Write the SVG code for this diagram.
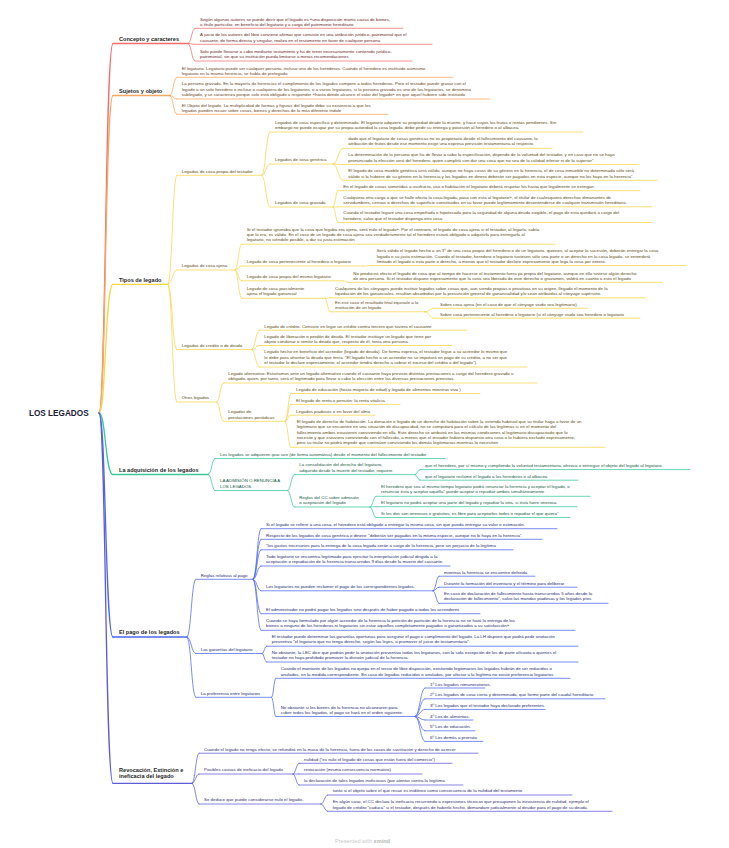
<svg xmlns="http://www.w3.org/2000/svg" width="729" height="848" viewBox="0 0 729 848">
<style>
text{font-family:"Liberation Sans",Arial,sans-serif}
.t{font-size:4.4px}
.m{font-size:5.6px;font-weight:bold;fill:#1f1f1f}
.root{font-size:8.2px;font-weight:bold;fill:#1b1c3b}
.tr{fill:#6a2424}.to{fill:#6a3f17}.ty{fill:#5a4b12}.tg{fill:#155a43}.tb{fill:#232b73}.tp{fill:#2e2c6e}
.l{fill:none;stroke-width:0.75;stroke-linecap:round}
.lm{stroke-width:1.3}
.sr{stroke:#F26D6D}.so{stroke:#F8A760}.sy{stroke:#F7D64B}.sg{stroke:#3CC89C}.sb{stroke:#4E67EE}.sp{stroke:#5E5BD6}
.ft{font-size:5.6px;fill:#c9c9c9}
</style>
<rect width="729" height="848" fill="#ffffff"/>

<g id="connectors">
<path class="l lm sr" d="M99,413 C106,413 105,43.5 113,43.5"/>
<path class="l lm so" d="M99,413 C106,413 105,95.5 113,95.5"/>
<path class="l lm sy" d="M99,413 C106,413 105,284.3 113,284.3"/>
<path class="l lm sg" d="M99,413 C106,413 105,474.5 113,474.5"/>
<path class="l lm sb" d="M99,413 C106,413 105,637 113,637"/>
<path class="l lm sp" d="M99,413 C106,413 105,783.3 113,783.3"/>

<path class="l sr" d="M188,43.5 C191.5,43.5 191.5,28.3 195,28.3"/>
<path class="l sr" d="M188,43.5 C191.5,43.5 191.5,44.3 195,44.3"/>
<path class="l sr" d="M188,43.5 C191.5,43.5 191.5,61 195,61"/>

<path class="l so" d="M170,95.5 C173.3,95.5 173.3,77.3 176.7,77.3"/>
<path class="l so" d="M170,95.5 C173.3,95.5 173.3,99 176.7,99"/>
<path class="l so" d="M170,95.5 C173.3,95.5 173.3,114.3 176.7,114.3"/>

<path class="l sy" d="M168,284.3 C172.3,284.3 172.3,175.3 176.7,175.3"/>
<path class="l sy" d="M168,284.3 C172.3,284.3 172.3,270 176.7,270"/>
<path class="l sy" d="M168,284.3 C172.3,284.3 172.3,349.6 176.7,349.6"/>
<path class="l sy" d="M168,284.3 C172.3,284.3 172.3,402 176.7,402"/>

<path class="l sy" d="M261.7,175.3 C265.8,175.3 265.8,132 270,132"/>
<path class="l sy" d="M261.7,175.3 C265.8,175.3 265.8,164 270,164"/>
<path class="l sy" d="M261.7,175.3 C265.8,175.3 265.8,207 270,207"/>
<path class="l sy" d="M333,164 C338,164 338,148.3 343,148.3"/>
<path class="l sy" d="M333,164 C338,164 338,164.5 343,164.5"/>
<path class="l sy" d="M333,164 C338,164 338,180.3 343,180.3"/>
<path class="l sy" d="M333,207 C335.5,207 335.5,190.7 338,190.7"/>
<path class="l sy" d="M333,207 C335.5,207 335.5,206.8 338,206.8"/>
<path class="l sy" d="M333,207 C335.5,207 335.5,222.5 338,222.5"/>

<path class="l sy" d="M235,270 C238.3,270 238.3,244.2 241.7,244.2"/>
<path class="l sy" d="M235,270 C238.3,270 238.3,266 241.7,266"/>
<path class="l sy" d="M235,270 C238.3,270 238.3,280.8 241.7,280.8"/>
<path class="l sy" d="M235,270 C238.3,270 238.3,298.3 241.7,298.3"/>
<path class="l sy" d="M363,266 C367.3,266 367.3,265.5 371.7,265.5"/>
<path class="l sy" d="M343,280.8 C345.5,280.8 345.5,282.3 348,282.3"/>
<path class="l sy" d="M325,298.3 C327.5,298.3 327.5,297.8 330,297.8"/>
<path class="l sy" d="M325,298.3 C327.5,298.3 327.5,311.8 330,311.8"/>
<path class="l sy" d="M425,311.8 C429.5,311.8 429.5,308.3 434,308.3"/>
<path class="l sy" d="M425,311.8 C429.5,311.8 429.5,318.2 434,318.2"/>

<path class="l sy" d="M251.7,349.6 C255.5,349.6 255.5,330.2 259.3,330.2"/>
<path class="l sy" d="M251.7,349.6 C255.5,349.6 255.5,345.5 259.3,345.5"/>
<path class="l sy" d="M251.7,349.6 C255.5,349.6 255.5,367 259.3,367"/>

<path class="l sy" d="M216.7,402 C220,402 220,383 223.3,383"/>
<path class="l sy" d="M216.7,402 C220,402 220,421.3 223.3,421.3"/>
<path class="l sy" d="M285,421.3 C288,421.3 288,393.5 291,393.5"/>
<path class="l sy" d="M285,421.3 C288,421.3 288,404.4 291,404.4"/>
<path class="l sy" d="M285,421.3 C288,421.3 288,415.2 291,415.2"/>
<path class="l sy" d="M285,421.3 C288,421.3 288,447.3 291,447.3"/>

<path class="l sg" d="M208.3,474.5 C211.7,474.5 211.7,458.5 215,458.5"/>
<path class="l sg" d="M208.3,474.5 C211.7,474.5 211.7,490.5 215,490.5"/>
<path class="l sg" d="M287.7,490.5 C291,490.5 291,474.6 294.3,474.6"/>
<path class="l sg" d="M287.7,490.5 C291,490.5 291,507 294.3,507"/>
<path class="l sg" d="M415,474.6 C417.5,474.6 417.5,469.6 420,469.6"/>
<path class="l sg" d="M415,474.6 C417.5,474.6 417.5,480.2 420,480.2"/>
<path class="l sg" d="M370,507 C373,507 373,496.3 376,496.3"/>
<path class="l sg" d="M370,507 C373,507 373,506.7 376,506.7"/>
<path class="l sg" d="M370,507 C373,507 373,517.5 376,517.5"/>

<path class="l sb" d="M187,637 C191.3,637 191.3,579.3 195.7,579.3"/>
<path class="l sb" d="M187,637 C191.3,637 191.3,653.5 195.7,653.5"/>
<path class="l sb" d="M187,637 C191.3,637 191.3,697.3 195.7,697.3"/>
<path class="l sb" d="M253,579.3 C257,579.3 257,528.7 261,528.7"/>
<path class="l sb" d="M253,579.3 C257,579.3 257,539.3 261,539.3"/>
<path class="l sb" d="M253,579.3 C257,579.3 257,549.8 261,549.8"/>
<path class="l sb" d="M253,579.3 C257,579.3 257,566 261,566"/>
<path class="l sb" d="M253,579.3 C257,579.3 257,590.8 261,590.8"/>
<path class="l sb" d="M253,579.3 C257,579.3 257,613.7 261,613.7"/>
<path class="l sb" d="M253,579.3 C257,579.3 257,630.3 261,630.3"/>
<path class="l sb" d="M433,590.8 C436,590.8 436,576.2 439,576.2"/>
<path class="l sb" d="M433,590.8 C436,590.8 436,587.2 439,587.2"/>
<path class="l sb" d="M433,590.8 C436,590.8 436,603.3 439,603.3"/>
<path class="l sb" d="M262,653.5 C264.3,653.5 264.3,646.2 266.7,646.2"/>
<path class="l sb" d="M262,653.5 C264.3,653.5 264.3,662 266.7,662"/>
<path class="l sb" d="M271.7,697.3 C273.7,697.3 273.7,678.3 275.7,678.3"/>
<path class="l sb" d="M271.7,697.3 C273.7,697.3 273.7,716.5 275.7,716.5"/>
<path class="l sb" d="M415,716.5 C420,716.5 420,688 425,688"/>
<path class="l sb" d="M415,716.5 C420,716.5 420,698.8 425,698.8"/>
<path class="l sb" d="M415,716.5 C420,716.5 420,709.4 425,709.4"/>
<path class="l sb" d="M415,716.5 C420,716.5 420,720 425,720"/>
<path class="l sb" d="M415,716.5 C420,716.5 420,730.8 425,730.8"/>
<path class="l sb" d="M415,716.5 C420,716.5 420,741.4 425,741.4"/>

<path class="l sp" d="M192,783.3 C195.5,783.3 195.5,753.2 199,753.2"/>
<path class="l sp" d="M192,783.3 C195.5,783.3 195.5,774 199,774"/>
<path class="l sp" d="M192,783.3 C195.5,783.3 195.5,804 199,804"/>
<path class="l sp" d="M293,774 C296,774 296,763.3 299,763.3"/>
<path class="l sp" d="M293,774 C296,774 296,774 299,774"/>
<path class="l sp" d="M293,774 C296,774 296,785 299,785"/>
<path class="l sp" d="M321,804 C324.3,804 324.3,795 327.7,795"/>
<path class="l sp" d="M321,804 C324.3,804 324.3,811.3 327.7,811.3"/>
</g>

<g id="root"><text class="root" x="29" y="416.3">LOS LEGADOS</text></g>

<!-- Concepto -->
<g id="concepto"><path class="l lm sr" d="M113,43.5H188"/><text class="m" x="119" y="41">Concepto y caracteres</text></g>
<g id="c1"><path class="l sr" d="M195,28.3H403"/><text class="t tr"><tspan x="200" y="20.5">Según algunos autores se puede decir que el legado es «una disposición mortis causa de bienes,</tspan><tspan x="200" y="25.9">a título particular, en beneficio del legatario y a cargo del patrimonio hereditario</tspan></text></g>
<g id="c2"><path class="l sr" d="M195,44.3H432"/><text class="t tr"><tspan x="200" y="36.2">A juicio de los autores del libro conviene afirmar que consiste en una atribución jurídico- patrimonial que el</tspan><tspan x="200" y="41.6">causante, de forma directa y singular, realiza en el testamento en favor de cualquier persona</tspan></text></g>
<g id="c3"><path class="l sr" d="M195,61H412"/><text class="t tr"><tspan x="200" y="52.8">Solo puede llevarse a cabo mediante testamento y ha de tener necesariamente contenido jurídico-</tspan><tspan x="200" y="58.2">patrimonial, sin que su institución pueda limitarse a meras recomendaciones</tspan></text></g>

<!-- Sujetos -->
<g id="sujetos"><path class="l lm so" d="M113,95.5H170"/><text class="m" x="119" y="92.7">Sujetos y objeto</text></g>
<g id="s1"><path class="l so" d="M176.7,77.3H453"/><text class="t to"><tspan x="181.7" y="69.5">El legatario. Legatario puede ser cualquier persona, incluso uno de los herederos. Cuando el heredero es instituido asimismo</tspan><tspan x="181.7" y="74.8">legatario en la misma herencia, se habla de prelegado</tspan></text></g>
<g id="s2"><path class="l so" d="M176.7,99H490"/><text class="t to"><tspan x="181.7" y="85.2">La persona gravada. En la mayoría de herencias el cumplimiento de los legados compete a todos herederos. Pero el testador puede gravar con el</tspan><tspan x="181.7" y="90.8">legado a un solo heredero e incluso a cualquiera de los legatarios, o a varios legatarios, si la persona gravada es uno de los legatarios, se denomina</tspan><tspan x="181.7" y="96.2">sublegado, y se caracteriza porque solo está obligado a responder «hasta donde alcance el valor del legado» en que aquel hubiere sido instituido</tspan></text></g>
<g id="s3"><path class="l so" d="M176.7,114.3H388"/><text class="t to"><tspan x="181.7" y="106.5">El Objeto del legado. La multiplicidad de formas y figuras del legado debe su existencia a que los</tspan><tspan x="181.7" y="111.8">legados pueden recaer sobre cosas, bienes y derechos de la más diferente índole</tspan></text></g>

<!-- Tipos -->
<g id="tipos"><path class="l lm sy" d="M113,284.3H168"/><text class="m" x="119" y="281.7">Tipos de legado</text></g>
<g id="t1"><path class="l sy" d="M176.7,175.3H261.7"/><text class="t ty" x="181.7" y="172.5">Legados de cosa propia del testador</text></g>
<g id="t1a"><path class="l sy" d="M270,132H583"/><text class="t ty"><tspan x="275" y="123.5">Legados de cosa específica y determinada. El legatario adquiere su propiedad desde la muerte, y hace suyos los frutos o rentas pendientes. Sin</tspan><tspan x="275" y="129">embargo no puede ocupar por su propia autoridad la cosa legada, debe pedir su entrega y posesión al heredero o al albacea.</tspan></text></g>
<g id="t1b"><path class="l sy" d="M270,164H333"/><text class="t ty" x="275" y="161.2">Legados de cosa genérica</text></g>
<g id="g1"><path class="l sy" d="M343,148.3H552"/><text class="t ty"><tspan x="348.3" y="139.5"> dado que el legatario de cosas genéricas no es propietario desde el fallecimiento del causante, la</tspan><tspan x="348.3" y="145">atribución de frutos desde ese momento exige una expresa previsión testamentaria al respecto.</tspan></text></g>
<g id="g2"><path class="l sy" d="M343,164.5H638"/><text class="t ty"><tspan x="348.3" y="156.2">La determinación de la persona que ha de llevar a cabo la especificación, depende de la voluntad del testador, y en caso que no se haya</tspan><tspan x="348.3" y="161.6">pronunciado la elección será del heredero, quien cumplirá con dar una cosa que no sea de la calidad inferior ni de la superior”.</tspan></text></g>
<g id="g3"><path class="l sy" d="M343,180.3H657"/><text class="t ty"><tspan x="348.3" y="172.2">El legado de cosa mueble genérica será válido, aunque no haya cosas de su género en la herencia, el de cosa inmueble no determinada sólo será</tspan><tspan x="348.3" y="177.5">válido si la hubiere de su género en la herencia y los legados en dinero deberán ser pagados en esta especie, aunque no los haya en la herencia”.</tspan></text></g>
<g id="t1c"><path class="l sy" d="M270,207H333"/><text class="t ty" x="275" y="204.2">Legados de cosa gravada</text></g>
<g id="v1"><path class="l sy" d="M338,190.7H640"/><text class="t ty" x="343.3" y="188">En el legado de cosas sometidas a usufructo, uso o habitación el legatario deberá respetar los hasta que legalmente se extingan.</text></g>
<g id="v2"><path class="l sy" d="M338,206.8H652"/><text class="t ty"><tspan x="343.3" y="198.5">Cualquiera otra carga a que se halle afecta la cosa legada, pasa con esta al legatario», el titular de cualesquiera derechos dimanantes de</tspan><tspan x="343.3" y="204">servidumbres, censos o derechos de superficie constituidos en su favor puede legítimamente desentenderse de cualquier transmisión hereditaria.</tspan></text></g>
<g id="v3"><path class="l sy" d="M338,222.5H652"/><text class="t ty"><tspan x="343.3" y="214.2">Cuando el testador legare una cosa empeñada o hipotecada para la seguridad de alguna deuda exigible, el pago de esta quedará a cargo del</tspan><tspan x="343.3" y="219.7">heredero, salvo que el testador disponga otra cosa</tspan></text></g>

<g id="t2"><path class="l sy" d="M176.7,270H235"/><text class="t ty" x="181.7" y="267.2">Legados de cosa ajena</text></g>
<g id="a1"><path class="l sy" d="M241.7,244.2H555"/><text class="t ty"><tspan x="246.7" y="230.5">Si el testador ignoraba que la cosa que legaba era ajena, será nulo el legado». Por el contrario, el legado de cosa ajena si el testador, al legarla, sabía</tspan><tspan x="246.7" y="235.9">que lo era, es válido. En el caso de un legado de cosa ajena sea verdaderamente tal el heredero estará obligado a adquirirla para entregarla al</tspan><tspan x="246.7" y="241.3">legatario, no siéndole posible, a dar su justa estimación</tspan></text></g>
<g id="a2"><path class="l sy" d="M241.7,266H363"/><text class="t ty" x="246.7" y="263.2">Legado de cosa perteneciente al heredero o legatario</text></g>
<g id="a2a"><path class="l sy" d="M371.7,265.5H686"/><text class="t ty"><tspan x="376.7" y="252.2">Será válido el legado hecho a un 3º de una cosa propia del heredero o de un legatario, quienes, al aceptar la sucesión, deberán entregar la cosa</tspan><tspan x="376.7" y="257.6">legada o su justa estimación. Cuando el testador, heredero o legatario tuviesen sólo una parte o un derecho en la cosa legada, se entenderá</tspan><tspan x="376.7" y="263">limitado el legado a esta parte o derecho, a menos que el testador declare expresamente que lega la cosa por entero.</tspan></text></g>
<g id="a3"><path class="l sy" d="M241.7,280.8H343"/><text class="t ty" x="246.7" y="277.8">Legado de cosa propia del mismo legatario</text></g>
<g id="a3a"><path class="l sy" d="M348,282.3H662"/><text class="t ty"><tspan x="353.3" y="274.6">No producirá efecto el legado de cosa que al tiempo de hacerse el testamento fuera ya propia del legatario, aunque en ella tuviese algún derecho</tspan><tspan x="353.3" y="280">de otra persona. Si el testador dispone expresamente que la cosa sea liberada de este derecho o gravamen, valdrá en cuanto a esto el legado</tspan></text></g>
<g id="a4"><path class="l sy" d="M241.7,298.3H325"/><text class="t ty"><tspan x="246.7" y="289.8">Legado de cosa parcialmente</tspan><tspan x="246.7" y="295.4">ajena el legado ganancial</tspan></text></g>
<g id="a4a"><path class="l sy" d="M330,297.8H645"/><text class="t ty"><tspan x="335" y="289.5">Cualquiera de los cónyuges puede instituir legados sobre cosas que, aun siendo propias o privativas en su origen, llegado el momento de la</tspan><tspan x="335" y="295">liquidación de los gananciales, resultan absorbidas por la presunción general de ganancialidad y/o sean atribuidas al cónyuge supérstite.</tspan></text></g>
<g id="a4b"><path class="l sy" d="M330,311.8H425"/><text class="t ty"><tspan x="335" y="303.8">En ese caso el resultado final equivale a la</tspan><tspan x="335" y="309.2">institución de un legado.</tspan></text></g>
<g id="a4b1"><path class="l sy" d="M434,308.3H588"/><text class="t ty" x="440" y="305.8">Sobre cosa ajena (en el caso de que el cónyuge viudo sea legitimario).</text></g>
<g id="a4b2"><path class="l sy" d="M434,318.2H640"/><text class="t ty" x="440" y="315.5">Sobre cosa perteneciente al heredero o legatario (si el cónyuge viudo sea heredero o legatario</text></g>

<g id="t3"><path class="l sy" d="M176.7,349.6H251.7"/><text class="t ty" x="181.7" y="346.8">Legados de credito o de deuda</text></g>
<g id="d1"><path class="l sy" d="M259.3,330.2H467"/><text class="t ty" x="264.3" y="327.5">Legado de crédito. Consiste en legar un crédito contra tercero que tuviera el causante</text></g>
<g id="d2"><path class="l sy" d="M259.3,345.5H452"/><text class="t ty"><tspan x="264.3" y="337.5">Legado de liberación o perdón de deuda. El testador instituye un legado que tiene por</tspan><tspan x="264.3" y="342.9">objeto condonar o remitir la deuda que, respecto de él, tenía otra persona.</tspan></text></g>
<g id="d3"><path class="l sy" d="M259.3,367H527"/><text class="t ty"><tspan x="264.3" y="353.2">Legado hecho en beneficio del acreedor (legado de deuda). De forma expresa, el testador legue a su acreedor lo mismo que</tspan><tspan x="264.3" y="358.7">le debe para afrontar la deuda que tenía. “El legado hecho a un acreedor no se imputará en pago de su crédito, a no ser que</tspan><tspan x="264.3" y="364.2">el testador lo declare expresamente, el acreedor tendrá derecho a cobrar el exceso del crédito o del legado”).</tspan></text></g>

<g id="t4"><path class="l sy" d="M176.7,402H216.7"/><text class="t ty" x="181.7" y="399.2">Otros legados</text></g>
<g id="o1"><path class="l sy" d="M223.3,383H537"/><text class="t ty"><tspan x="228.3" y="374.8">Legado alternativo: Estaríamos ante un legado alternativo cuando el causante haya previsto distintas prestaciones a cargo del heredero gravado u</tspan><tspan x="228.3" y="380.2">obligado, quien, por tanto, será el legitimado para llevar a cabo la elección entre las diversas prestaciones previstas.</tspan></text></g>
<g id="o2"><path class="l sy" d="M223.3,421.3H285"/><text class="t ty"><tspan x="228.3" y="413.2">Legados de</tspan><tspan x="228.3" y="418.6">prestaciones periódicas</tspan></text></g>
<g id="p1"><path class="l sy" d="M291,393.5H480"/><text class="t ty" x="296" y="390.6">Legado de educación (hasta mayoría de edad) y legado de alimentos mientras viva )</text></g>
<g id="p2"><path class="l sy" d="M291,404.4H400"/><text class="t ty" x="296" y="401.8">El legado de renta o pensión: la renta vitalicia.</text></g>
<g id="p3"><path class="l sy" d="M291,415.2H375"/><text class="t ty" x="296" y="412.5">Legados piadosos o en favor del alma</text></g>
<g id="p4"><path class="l sy" d="M291,447.3H605"/><text class="t ty"><tspan x="296.7" y="422.8">El legado de derecho de habitación. La donación o legado de un derecho de habitación sobre la vivienda habitual que su titular haga a favor de un</tspan><tspan x="296.7" y="428.2">legitimario que se encuentre en una situación de discapacidad, no se computará para el cálculo de las legítimas si en el momento del</tspan><tspan x="296.7" y="433.6">fallecimiento ambos estuvieren conviviendo en ella. Este derecho se atribuirá en las mismas condiciones al legitimario discapacitado que lo</tspan><tspan x="296.7" y="439">necesite y que estuviera conviviendo con el fallecido, a menos que el testador hubiera dispuesto otra cosa o lo hubiera excluido expresamente,</tspan><tspan x="296.7" y="444.4">pero su titular no podrá impedir que continúen conviviendo los demás legitimarios mientras lo necesiten</tspan></text></g>

<!-- Adquisición -->
<g id="adquisicion"><path class="l lm sg" d="M113,474.5H208.3"/><text class="m" x="119" y="471.7">La adquisición de los legados</text></g>
<g id="q1"><path class="l sg" d="M215,458.5H445"/><text class="t tg" x="220" y="455.5">Los legados se adquieren ipso iure (de forma automática) desde el momento del fallecimiento del testador</text></g>
<g id="q2"><path class="l sg" d="M215,490.5H287.7"/><text class="t tg"><tspan x="220" y="482.2">LA ADMISIÓN O RENUNCIA A</tspan><tspan x="220" y="487.7">LOS LEGADOS</tspan></text></g>
<g id="q2a"><path class="l sg" d="M294.3,474.6H415"/><text class="t tg"><tspan x="299.3" y="466.2">La consolidación del derecho del legatario,</tspan><tspan x="299.3" y="471.7">adquirido desde la muerte del testador, requiere</tspan></text></g>
<g id="q2a1"><path class="l sg" d="M420,469.6H690"/><text class="t tg" x="425" y="466.8">que el heredero, por sí mismo y cumpliendo la voluntad testamentaria, ofrezca o entregue el objeto del legado al legatario.</text></g>
<g id="q2a2"><path class="l sg" d="M420,480.2H578"/><text class="t tg" x="425" y="477.5">que el legatario reclame el legado a los herederos o al albacea</text></g>
<g id="q2b"><path class="l sg" d="M294.3,507H370"/><text class="t tg"><tspan x="299.3" y="498.8">Reglas del CC sobre admisión</tspan><tspan x="299.3" y="504.2">o aceptación del legado</tspan></text></g>
<g id="q2b1"><path class="l sg" d="M376,496.3H590"/><text class="t tg"><tspan x="381" y="487.6">El heredero que sea al mismo tiempo legatario podrá renunciar la herencia y aceptar el legado, o</tspan><tspan x="381" y="493">renunciar ésta y aceptar aquélla” puede aceptar o repudiar ambos simultáneamente</tspan></text></g>
<g id="q2b2"><path class="l sg" d="M376,506.7H577"/><text class="t tg" x="381" y="503.8">El legatario no podrá aceptar una parte del legado y repudiar la otra, si ésta fuere onerosa.</text></g>
<g id="q2b3"><path class="l sg" d="M376,517.5H570"/><text class="t tg" x="381" y="514.8">Si los dos son onerosos o gratuitos, es libre para aceptarlos todos o repudiar el que quiera”</text></g>

<!-- Pago -->
<g id="pago"><path class="l lm sb" d="M113,637H187"/><text class="m" x="119" y="634.3">El pago de los legados</text></g>
<g id="r1"><path class="l sb" d="M195.7,579.3H253"/><text class="t tb" x="200.7" y="576.5">Reglas relativas al pago</text></g>
<g id="r1a"><path class="l sb" d="M261,528.7H557"/><text class="t tb" x="266" y="525.8">Si el legado se refiere a una cosa, el heredero está obligado a entregar la misma cosa, sin que pueda entregar su valor o estimación.</text></g>
<g id="r1b"><path class="l sb" d="M261,539.3H542"/><text class="t tb" x="266" y="536.5">Respecto de los legados de cosa genérica o dinero: “deberán ser pagados en la misma especie, aunque no lo haya en la herencia”.</text></g>
<g id="r1c"><path class="l sb" d="M261,549.8H513"/><text class="t tb" x="266" y="547.2">“los gastos necesarios para la entrega de la cosa legada serán a cargo de la herencia, pero sin perjuicio de la legítima</text></g>
<g id="r1d"><path class="l sb" d="M261,566H450"/><text class="t tb"><tspan x="266" y="557.5">Todo legatario se encuentra legitimado para ejercitar la interpelación judicial dirigida a la</tspan><tspan x="266" y="563">aceptación o repudiación de la herencia transcurridos 9 días desde la muerte del causante.</tspan></text></g>
<g id="r1e"><path class="l sb" d="M261,590.8H433"/><text class="t tb" x="266" y="588.2">Los legatarios no pueden reclamer el pago de los correspondientes legados.</text></g>
<g id="r1e1"><path class="l sb" d="M439,576.2H535"/><text class="t tb" x="444" y="573.8">mientras la herencia se encuentre deferida</text></g>
<g id="r1e2"><path class="l sb" d="M439,587.2H577"/><text class="t tb" x="444" y="584.5">Durante la formación del inventario y el término para deliberar</text></g>
<g id="r1e3"><path class="l sb" d="M439,603.3H608"/><text class="t tb"><tspan x="444" y="594.8">En caso de declaración de fallecimiento hasta transcurridos 5 años desde la</tspan><tspan x="444" y="600.4">declaración de fallecimiento”, salvo las mandas piadosas y los legados píos</tspan></text></g>
<g id="r1f"><path class="l sb" d="M261,613.7H480"/><text class="t tb" x="266" y="610.8">El administrador no podrá pagar los legados sino después de haber pagado a todos los acreedores</text></g>
<g id="r1g"><path class="l sb" d="M261,630.3H575"/><text class="t tb"><tspan x="266" y="621.5">Cuando se haya formulado por algún acreedor de la herencia la petición de partición de la herencia no se hará la entrega de los</tspan><tspan x="266" y="626.9">bienes a ninguno de los herederos ni legatarios sin estar aquellos completamente pagados o garantizados a su satisfacción»</tspan></text></g>
<g id="r2"><path class="l sb" d="M195.7,653.5H262"/><text class="t tb" x="200.7" y="650.8">Las garantías del legatario</text></g>
<g id="r2a"><path class="l sb" d="M266.7,646.2H578"/><text class="t tb"><tspan x="271.7" y="637.8">El testador puede determinar las garantías oportunas para asegurar el pago o cumplimiento del legado. La LH dispone que podrá pedir anotación</tspan><tspan x="271.7" y="643.3">preventiva “el legatario que no tenga derecho, según las leyes, a promover el juicio de testamentaria”.</tspan></text></g>
<g id="r2b"><path class="l sb" d="M266.7,662H578"/><text class="t tb"><tspan x="271.7" y="653.8">No obstante, la LEC dice que podrán pedir la anotación preventiva todos los legatarios, con la sola excepción de los de parte alícuota a quienes el</tspan><tspan x="271.7" y="659.2">testador no haya prohibido promover la división judicial de la herencia.</tspan></text></g>
<g id="r3"><path class="l sb" d="M195.7,697.3H271.7"/><text class="t tb" x="200.7" y="694.5">La preferencia entre legatarios</text></g>
<g id="r3a"><path class="l sb" d="M275.7,678.3H570"/><text class="t tb"><tspan x="280.7" y="670.2">Cuando el montante de los legados no quepa en el tercio de libre disposición, existiendo legitimarios los legados habrán de ser reducidos o</tspan><tspan x="280.7" y="675.6">anulados, en la medida correspondiente. En caso de legados reducidos o anulados, por afectar a la legítima no existe preferencia legatarios</tspan></text></g>
<g id="r3b"><path class="l sb" d="M275.7,716.5H415"/><text class="t tb"><tspan x="280.7" y="708.5">No obstante si los bienes de la herencia no alcanzaren para</tspan><tspan x="280.7" y="713.9">cubrir todos los legados, el pago se hará en el orden siguiente:</tspan></text></g>
<g id="r3b1"><path class="l sb" d="M425,688H485"/><text class="t tb" x="430" y="685.8">1º Los legados remuneratorios.</text></g>
<g id="r3b2"><path class="l sb" d="M425,698.8H605"/><text class="t tb" x="430" y="696.2">2º Los legados de cosa cierta y determinada, que forme parte del caudal hereditario.</text></g>
<g id="r3b3"><path class="l sb" d="M425,709.4H545"/><text class="t tb" x="430" y="706.8">3º Los legados que el testador haya declarado preferentes.</text></g>
<g id="r3b4"><path class="l sb" d="M425,720H473"/><text class="t tb" x="430" y="717.5">4º Los de alimentos.</text></g>
<g id="r3b5"><path class="l sb" d="M425,730.8H475"/><text class="t tb" x="430" y="728.2">5º Los de educación.</text></g>
<g id="r3b6"><path class="l sb" d="M425,741.4H483"/><text class="t tb" x="430" y="738.8">6º Los demás a prorrata</text></g>

<!-- Revocación -->
<g id="revocacion"><path class="l lm sp" d="M113,783.3H192"/><text class="m"><tspan x="119" y="771.7">Revocación, Extinción e</tspan><tspan x="119" y="778.4">ineficacia del legado</tspan></text></g>
<g id="e1"><path class="l sp" d="M199,753.2H478"/><text class="t tp" x="204" y="750.5">Cuando el legado no tenga efecto, se refundirá en la masa de la herencia, fuera de los casos de sustitución y derecho de acrecer</text></g>
<g id="e2"><path class="l sp" d="M199,774H293"/><text class="t tp" x="204" y="771.2">Posibles causas de ineficacia del legado</text></g>
<g id="e2a"><path class="l sp" d="M299,763.3H452"/><text class="t tp" x="304" y="760.5">nulidad (“es nulo el legado de cosas que están fuera del comercio”)</text></g>
<g id="e2b"><path class="l sp" d="M299,774H422"/><text class="t tp" x="304" y="771.2">revocación (misma consecuencia normativa)</text></g>
<g id="e2c"><path class="l sp" d="M299,785H463"/><text class="t tp" x="304" y="782.2">la declaración de tales legados inoficiosos (por atentar contra la legítima</text></g>
<g id="e3"><path class="l sp" d="M199,804H321"/><text class="t tp" x="204" y="800.8">Se deduce que puede considerarse nulo el legado..</text></g>
<g id="e3a"><path class="l sp" d="M327.7,795H572"/><text class="t tp" x="332.7" y="792.2">tanto si el objeto sobre el que recae es inidóneo como consecuencia de la nulidad del testamento</text></g>
<g id="e3b"><path class="l sp" d="M327.7,811.3H612"/><text class="t tp"><tspan x="332.7" y="803.2">En algún caso, el CC declara la ineficacia recurriendo a expresiones técnicas que presuponen la inexistencia de nulidad, ejemplo el</tspan><tspan x="332.7" y="808.6">legado de crédito “caduca” si el testador, después de haberlo hecho, demandare judicialmente al deudor para el pago de su deuda.</tspan></text></g>

<g id="footer"><text class="ft" x="335" y="842.6">Presented with <tspan font-weight="bold" fill="#b8b8b8">xmind</tspan></text></g>
</svg>
